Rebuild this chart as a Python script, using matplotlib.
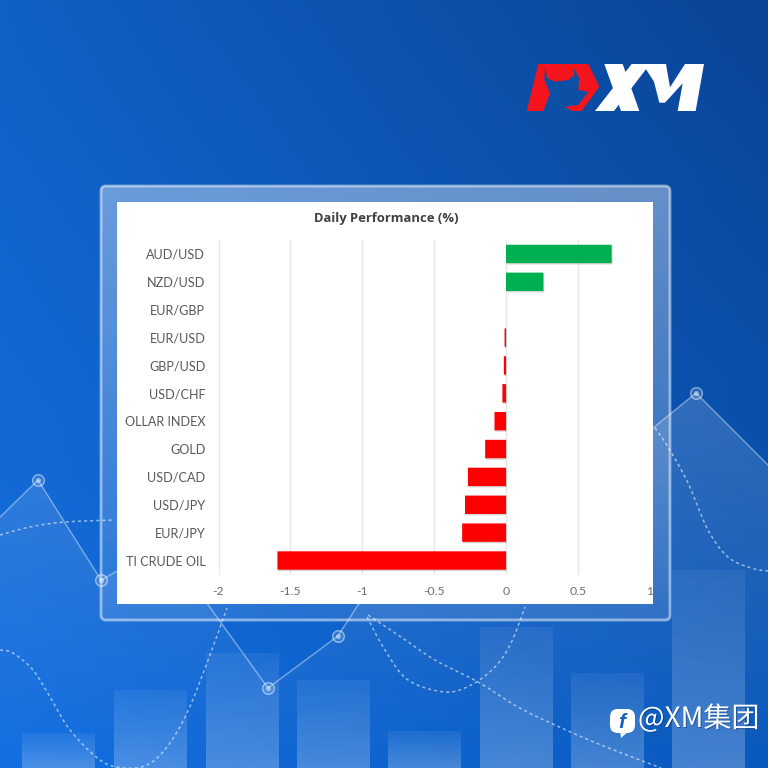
import numpy as np
import matplotlib
matplotlib.use('Agg')
import matplotlib.pyplot as plt
import matplotlib.patheffects as pe
from matplotlib.patches import FancyBboxPatch, Rectangle, Polygon

labels = ['AUD/USD', 'NZD/USD', 'EUR/GBP', 'EUR/USD', 'GBP/USD', 'USD/CHF',
          'OLLAR INDEX', 'GOLD', 'USD/CAD', 'USD/JPY', 'EUR/JPY', 'TI CRUDE OIL']
values = [0.735, 0.26, 0.0, -0.01, -0.015, -0.025, -0.08, -0.145, -0.265, -0.285, -0.305, -1.59]
xticks = [-2, -1.5, -1, -0.5, 0, 0.5, 1]
xticklabels = ['-2', '-1.5', '-1', '-0.5', '0', '0.5', '1']

# background decoration, in pixels of the 768 square
bg_bars = [(22, 733), (114, 690), (206, 653), (297, 680), (388, 731), (480, 627), (571, 673), (672, 570)]
line_pts = [(-5, 522), (38, 480), (101, 580), (165, 545), (268, 688), (338, 636), (358, 605),
            (500, 480), (653, 428), (696, 393), (775, 472)]
dots = [(38, 480), (101, 580), (268, 688), (338, 636), (696, 393)]
curve_a = [(0, 535), (30, 527), (65, 522), (115, 520)]
curve_b = [(655, 428), (668, 447), (688, 483), (708, 530), (728, 557), (751, 568), (768, 571)]
curve_c = [(0, 650), (13, 653), (33, 670), (50, 697), (70, 730), (100, 760), (123, 768), (147, 765),
           (167, 747), (187, 713), (207, 663), (227, 608)]
curve_d = [(368, 615), (401, 637), (435, 660), (478, 682), (518, 707), (555, 725), (601, 745), (661, 768)]
curve_e = [(367, 617), (385, 650), (408, 680), (445, 692), (471, 685), (495, 667), (511, 643), (525, 607)]


def smooth(pts, n=12):
    # catmull-rom through the hand picked points
    p = np.array([pts[0]] + pts + [pts[-1]], dtype=float)
    out = []
    for i in range(1, len(p) - 2):
        for t in np.linspace(0, 1, n, endpoint=False):
            out.append(0.5 * (2 * p[i] + (p[i + 1] - p[i - 1]) * t
                              + (2 * p[i - 1] - 5 * p[i] + 4 * p[i + 1] - p[i + 2]) * t ** 2
                              + (3 * p[i] - p[i - 1] - 3 * p[i + 1] + p[i + 2]) * t ** 3))
    out.append(p[-2])
    return np.array(out)


def white_fade(ax, extent, a_top, a_bot, zorder, clip=None):
    # white image whose alpha changes from top to bottom
    img = np.ones((64, 2, 4))
    img[..., 3] = np.linspace(a_top, a_bot, 64)[:, None]
    im = ax.imshow(img, extent=extent, aspect='auto', zorder=zorder)
    if clip is not None:
        im.set_clip_path(clip)


fig = plt.figure(figsize=(7.68, 7.68), dpi=100)

bg = fig.add_axes([0, 0, 1, 1])
bg.axis('off')

# corner colours, blended across the square
tl, tr = np.array([17, 96, 196]), np.array([9, 68, 150])
bl, br = np.array([20, 112, 226]), np.array([10, 90, 190])
u, v = np.meshgrid(np.linspace(0, 1, 200), np.linspace(0, 1, 200))
grad = ((1 - v)[..., None] * ((1 - u)[..., None] * tl + u[..., None] * tr)
        + v[..., None] * ((1 - u)[..., None] * bl + u[..., None] * br)) / 255
bg.imshow(grad, extent=(0, 768, 768, 0), aspect='auto', zorder=0)

# area under the polyline
area = Polygon(line_pts + [(775, 768), (-5, 768)], transform=bg.transData, fc='none', lw=0)
bg.add_patch(area)
white_fade(bg, (0, 768, 768, 390), 0.16, 0.0, 1, clip=area)

for x, top in bg_bars:
    white_fade(bg, (x, x + 73, 768, top), 0.06, 0.24, 1.5)

xs, ys = zip(*line_pts)
bg.plot(xs, ys, color='white', alpha=0.42, lw=1, zorder=2)
for c in [curve_a, curve_b, curve_c, curve_d, curve_e]:
    s = smooth(c)
    bg.plot(s[:, 0], s[:, 1], color='white', alpha=0.55, lw=1.1, ls=(0, (2, 2)), zorder=2)
dx, dy = zip(*dots)
bg.scatter(dx, dy, s=70, fc=(1, 1, 1, 0.12), ec=(1, 1, 1, 0.5), lw=1, zorder=3)
bg.scatter(dx, dy, s=14, fc=(1, 1, 1, 0.45), lw=0, zorder=3)

# frame and white panel, the glass fades towards the bottom
frame = FancyBboxPatch((101, 186), 569, 434, boxstyle='round,pad=0,rounding_size=5',
                       fc='none', ec=(1, 1, 1, 0.5), lw=2, zorder=4.1)
bg.add_patch(frame)
frame_clip = FancyBboxPatch((101, 186), 569, 434, boxstyle='round,pad=0,rounding_size=5',
                            transform=bg.transData, fc='none', lw=0)
bg.add_patch(frame_clip)
white_fade(bg, (100, 671, 621, 185), 0.38, 0.1, 4, clip=frame_clip)
bg.add_patch(Rectangle((117, 202), 536, 402, fc='white', lw=0, zorder=5))

red_shape = [(50, 183), (85, 42), (235, 42), (268, 110), (215, 183)]
bull = [(105, 52), (112, 85), (135, 95), (175, 90), (193, 75), (190, 52), (208, 85), (205, 120),
        (235, 125), (205, 165), (165, 170), (185, 183), (100, 183), (120, 130), (103, 90)]
x_left = [(283, 42), (338, 42), (388, 183), (333, 183)]
x_right = [(255, 183), (312, 183), (420, 42), (365, 42)]
m_shape = [(398, 42), (468, 42), (480, 112), (525, 42), (582, 42), (557, 183), (503, 183), (518, 100),
           (465, 158), (448, 158), (432, 95), (398, 42)]
for shape, col in [(red_shape, '#f4151c'), (bull, '#0c50a6'), (x_left, 'white'), (x_right, 'white'), (m_shape, 'white')]:
    bg.add_patch(Polygon([(510 + a / 3, 50 + b / 3) for a, b in shape], fc=col, lw=0, zorder=5))

# watermark
bg.add_patch(FancyBboxPatch((610, 709), 25, 24, boxstyle='round,pad=0,rounding_size=8',
                            fc='white', lw=0, zorder=5))
bg.add_patch(Polygon([(620, 730), (630, 730), (621, 738)], fc='white', lw=0, zorder=5))
bg.text(622, 722, 'f', color='#1a5fc0', fontsize=15, weight='bold', style='italic',
        family='Liberation Sans', ha='center', va='center', zorder=6)
bg.text(638, 719, '@XM集团', color='white', fontsize=20.2, va='center', ha='left',
        family=['Noto Sans CJK SC', 'DejaVu Sans'], zorder=5,
        path_effects=[pe.withSimplePatchShadow(offset=(0.7, -0.7), shadow_rgbFace='#0a2f70', alpha=0.5)])
bg.set_xlim(0, 768)
bg.set_ylim(768, 0)

# chart: x scale from ticks at 218.5 (-2) and 506 (0)
y_top, y_bot = 240, 575
x0, x1 = 218.5, 653
ax = fig.add_axes([x0 / 768, 1 - y_bot / 768, (x1 - x0) / 768, (y_bot - y_top) / 768], zorder=2)
ax.patch.set_alpha(0)
xmax = (x1 - 506) / 143.75
ax.set_xlim(-2, xmax)
ypos = np.arange(len(labels))
ax.set_ylim(len(labels) - 0.5 + 0.02, -0.5)
colors = ['#00b050' if v > 0 else '#ff0000' for v in values]
bars = ax.barh(ypos, values, height=0.66, color=colors, zorder=3)
for b in bars:
    b.set_snap(False)
    b.set_path_effects([pe.SimplePatchShadow(offset=(0.6, -1), shadow_rgbFace='#888888', alpha=0.35), pe.Normal()])

ax.set_yticks(ypos)
ax.set_yticklabels(labels, fontsize=9.1, color='#595959', family='Lato')
ax.set_xticks(xticks)
ax.set_xticklabels(xticklabels, fontsize=8.8, color='#6e6e6e', family='Lato')
ax.tick_params(length=0)
ax.tick_params(axis='x', pad=8)
ax.tick_params(axis='y', pad=9.5)
ax.grid(axis='x', color='#e6e6e6', lw=1, zorder=0)
ax.get_xgridlines()[-1].set_visible(False)
ax.set_axisbelow(True)
for s in ax.spines.values():
    s.set_visible(False)

# the "1" is cut by the panel edge
panel = Rectangle((117, 202), 536, 402, transform=bg.transData)
for t in ax.get_xticklabels():
    t.set_clip_path(panel)
    t.set_clip_on(True)

fig.text(386 / 768, 1 - 218.5 / 768, 'Daily Performance (%)', fontsize=9.4, color='#404040',
         weight='bold', family='Open Sans', ha='center', va='center', zorder=5)

fig.savefig('out.png', dpi=100)
